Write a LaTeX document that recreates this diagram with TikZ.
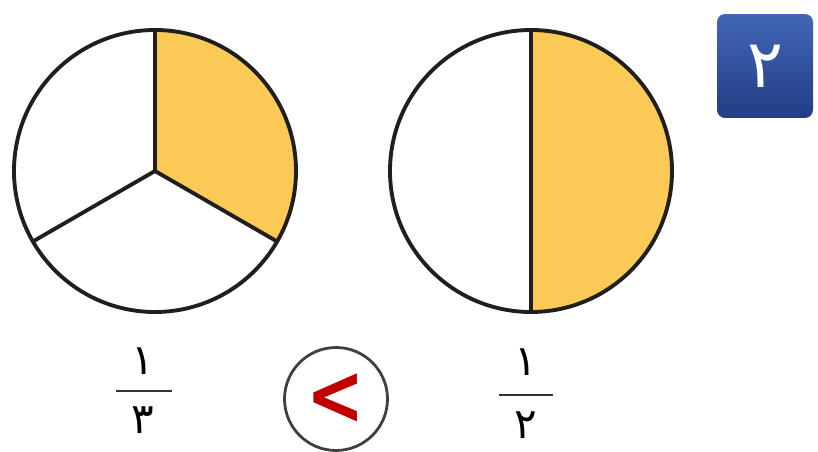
\documentclass[tikz,border=0pt]{standalone}
\usepackage{fontspec}
\usepackage{tikz}
\usetikzlibrary{shapes.geometric}
\newfontfamily\arabicfont[Script=Arabic]{DejaVu Sans}
\newfontfamily\symfont{DejaVu Sans}
\TeXXeTstate=1
\definecolor{pieyellow}{RGB}{250,201,86}
\definecolor{badgetop}{RGB}{66,102,184}
\definecolor{badgebot}{RGB}{34,62,132}
\definecolor{signred}{RGB}{192,0,0}

\begin{document}
\begin{tikzpicture}[x=0.02cm, y=0.02cm,
  rim/.style={draw=black!88, line width=2.2pt},
  num/.style={font=\arabicfont\fontsize{24}{28}\selectfont, inner sep=0pt},
  bar/.style={draw=black!80, line width=1.6pt},
  badge/.style={rounded corners=0.16cm, minimum width=1.92cm, minimum height=2.08cm, top color=badgetop, bottom color=badgebot, text=white, font=\arabicfont\fontsize{38}{44}\selectfont},
  cmp/.style={circle, draw=black!75, line width=1.6pt, minimum size=2.06cm, inner sep=0pt, text=signred, font=\symfont\bfseries\fontsize{44}{48}\selectfont}]
\useasboundingbox (0,0) rectangle (818,-452);
% one third
\coordinate (c3) at (155,-171);
\fill[pieyellow] (c3) -- ++(90:141) arc[start angle=90, end angle=-30, radius=141] -- cycle;
\draw[rim] (c3) circle[radius=141];
\draw[rim] (c3) -- ++(90:141) (c3) -- ++(-30:141) (c3) -- ++(210:141);
% one half
\coordinate (c2) at (531,-171);
\fill[pieyellow] (c2) -- ++(90:141) arc[start angle=90, end angle=-90, radius=141] -- cycle;
\draw[rim] (c2) circle[radius=141];
\draw[rim] (c2) ++(0,141) -- ++(0,-282);
% fractions
\node[num] (n3) at (143,-361) {\beginR ١\endR};
\node[num] (d3) at (143,-420) {\beginR ٣\endR};
\draw[bar] (116,-391) -- (172,-391);
\node[num] (n2) at (526,-362) {\beginR ١\endR};
\node[num] (d2) at (526,-425) {\beginR ٢\endR};
\draw[bar] (499,-395) -- (553,-395);
% comparison and number
\node[cmp] (sign) at (336,-399) {\scalebox{0.9}[1.1]{<}};
\node[badge] (num2) at (765,-66) {\beginR ٢\endR};
\end{tikzpicture}
\end{document}
